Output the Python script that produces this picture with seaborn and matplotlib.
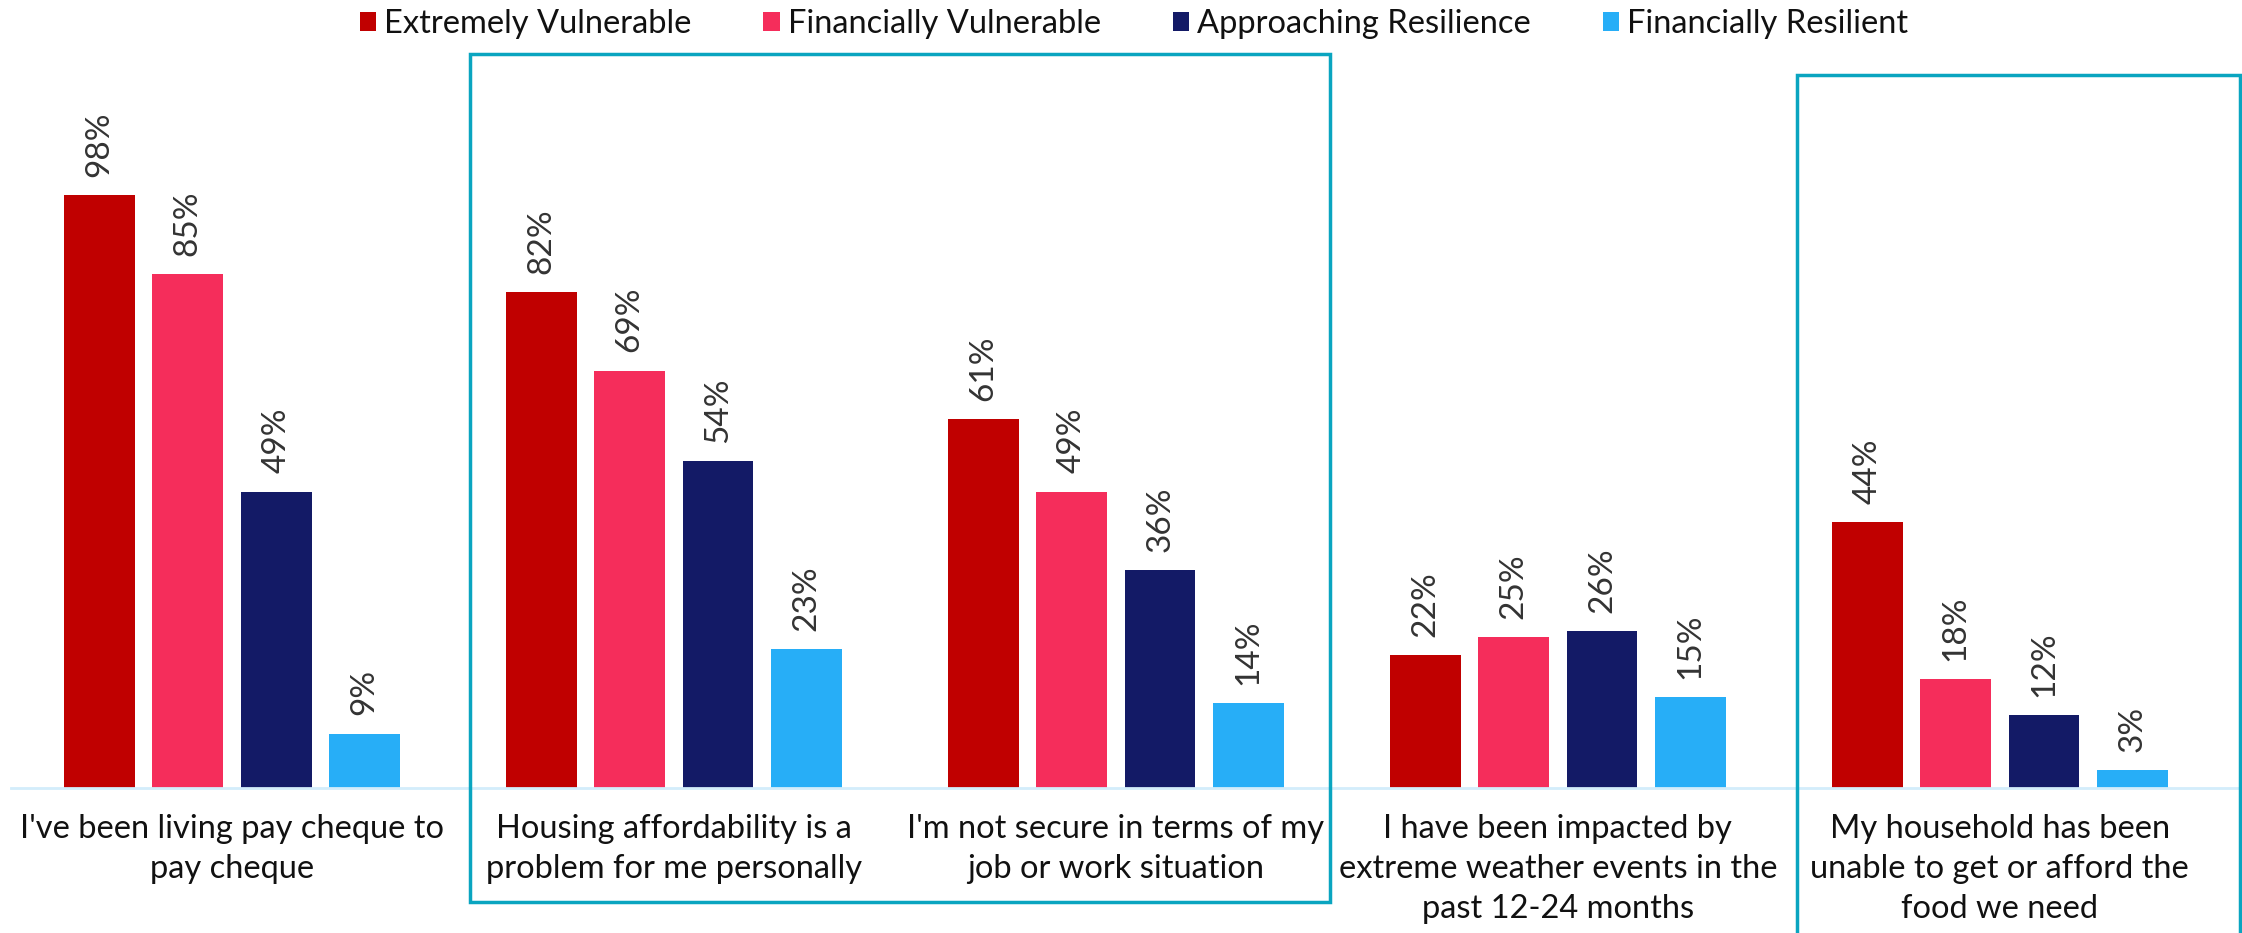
import matplotlib
matplotlib.use("Agg")
import matplotlib.pyplot as plt
from matplotlib.patches import Rectangle
import pandas as pd
import seaborn as sns

statements = [
    "I've been living pay cheque to\npay cheque",
    "Housing affordability is a\nproblem for me personally",
    "I'm not secure in terms of my\njob or work situation",
    "I have been impacted by\nextreme weather events in the\npast 12-24 months",
    "My household has been\nunable to get or afford the\nfood we need",
]
segments = ["Extremely Vulnerable", "Financially Vulnerable",
            "Approaching Resilience", "Financially Resilient"]
extremely_vulnerable = [98, 82, 61, 22, 44]
financially_vulnerable = [85, 69, 49, 25, 18]
approaching_resilience = [49, 54, 36, 26, 12]
financially_resilient = [9, 23, 14, 15, 3]

colors = ["#C00000", "#F52D5B", "#131A66", "#27AEF7"]

rows = []
for seg, vals in zip(segments, [extremely_vulnerable, financially_vulnerable,
                                approaching_resilience, financially_resilient]):
    for st, v in zip(statements, vals):
        rows.append({"statement": st, "segment": seg, "pct": v})
df = pd.DataFrame(rows)

sns.set_style("white")
plt.rcParams["font.family"] = ["Lato", "DejaVu Sans"]

W, H = 2242, 933
fig = plt.figure(figsize=(W / 100, H / 100), dpi=100)
ax = fig.add_axes([11 / W, (H - 788) / H, (W - 11) / W, 788 / H])

sns.barplot(data=df, x="statement", y="pct", hue="segment", order=statements,
            hue_order=segments, palette=colors, saturation=1, width=0.8,
            gap=0.2, linewidth=0, ax=ax)

ax.set_ylim(0, 788 / 6.05)
ax.set_xlim(-0.5, 4.548)

for cont in ax.containers:
    ax.bar_label(cont, fmt="%.0f%%", rotation=90, padding=13,
                 fontsize=24, color="#333333")

ax.set_xlabel("")
ax.set_ylabel("")
ax.set_yticks([])
ax.tick_params(axis="x", length=0, pad=19)
for lbl in ax.get_xticklabels():
    lbl.set_fontsize(23.5)
    lbl.set_linespacing(1.4)
    lbl.set_color("#111111")

for s in ["top", "left", "right"]:
    ax.spines[s].set_visible(False)
ax.spines["bottom"].set_color("#D3EDFB")
ax.spines["bottom"].set_linewidth(2)

handles, labels = ax.get_legend_handles_labels()
ax.get_legend().remove()
fig.legend(handles, labels, loc="center", bbox_to_anchor=(1134 / W, 1 - 24 / H),
           ncol=4, frameon=False, fontsize=23.5, handlelength=0.5,
           handleheight=0.55, handletextpad=0.25, columnspacing=2.2,
           labelcolor="#111111")

# highlight boxes
box_color = "#0AA5C0"
fig.add_artist(Rectangle((470 / W, 1 - 902 / H), (1330 - 470) / W, (902 - 54) / H,
                         transform=fig.transFigure, fill=False,
                         edgecolor=box_color, linewidth=2.5))
fig.add_artist(Rectangle((1797 / W, -0.05), (2240 - 1797) / W, 1.05 - 75 / H,
                         transform=fig.transFigure, fill=False,
                         edgecolor=box_color, linewidth=2.5))

fig.savefig("out.png", dpi=100)
